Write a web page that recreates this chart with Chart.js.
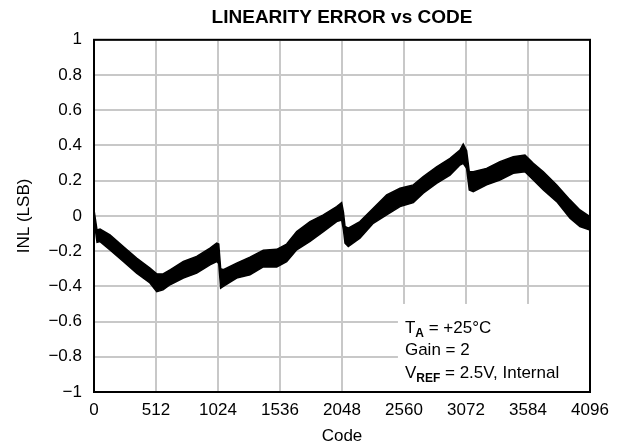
<!DOCTYPE html>
<html>
<head>
<meta charset="utf-8">
<script src="https://cdn.jsdelivr.net/npm/chart.js@4.4.1/dist/chart.umd.min.js"></script>
<style>
  html, body { margin: 0; padding: 0; background: #fff; }
  #wrap { width: 621px; height: 448px; }
</style>
</head>
<body>
<div id="wrap"><canvas id="c"></canvas></div>
<script>
var codes = [0, 25, 50, 132, 242, 352, 462, 518, 570, 628, 738, 848, 958, 1013, 1030, 1046, 1068, 1178, 1288,
  1398, 1509, 1591, 1674, 1784, 1894, 2004, 2045, 2060, 2073, 2100, 2196, 2306, 2417, 2527, 2637, 2719,
  2829, 2940, 3022, 3049, 3077, 3099, 3132, 3242, 3352, 3462, 3559, 3628, 3711, 3821, 3931, 4013, 4096];
// top edge of the INL trace (LSB)
var inlUpper = [0.035, -0.08, -0.075, -0.108, -0.174, -0.24, -0.296, -0.329, -0.33, -0.306, -0.259, -0.23, -0.183, -0.155, -0.16, -0.30, -0.306, -0.268, -0.235,
  -0.195, -0.19, -0.16, -0.089, -0.032, 0.006, 0.053, 0.075, 0.02, -0.06, -0.07, -0.032, 0.043, 0.119, 0.157, 0.176, 0.223,
  0.279, 0.327, 0.374, 0.408, 0.37, 0.251, 0.251, 0.27, 0.308, 0.336, 0.346, 0.299, 0.251, 0.176, 0.091, 0.034, -0.004];
// bottom edge of the INL trace (LSB)
var inlLower = [-0.02, -0.15, -0.146, -0.193, -0.259, -0.325, -0.381, -0.43, -0.42, -0.391, -0.353, -0.325, -0.278, -0.259, -0.27, -0.41, -0.40, -0.353, -0.335,
  -0.29, -0.29, -0.26, -0.193, -0.145, -0.089, -0.032, -0.023, -0.08, -0.155, -0.174, -0.127, -0.042, 0.006, 0.053, 0.075, 0.129,
  0.185, 0.232, 0.289, 0.298, 0.27, 0.147, 0.138, 0.176, 0.204, 0.242, 0.251, 0.204, 0.147, 0.081, -0.013, -0.06, -0.08];

var xTicks = [0, 512, 1024, 1536, 2048, 2560, 3072, 3584, 4096];
var noteLines = [
  { main: 'T', sub: 'A', rest: ' = +25°C' },
  { main: 'Gain = 2', sub: '', rest: '' },
  { main: 'V', sub: 'REF', rest: ' = 2.5V, Internal' }
];

var FONT = '"Liberation Sans", Arial, Helvetica, sans-serif';

function pts(ys) {
  return codes.map(function (c, i) { return { x: c, y: ys[i] }; });
}

var notePlugin = {
  id: 'note',
  beforeDatasetsDraw: function (chart) {
    var ctx = chart.ctx, a = chart.chartArea;
    var x = chart.scales.x, y = chart.scales.y;
    var left = x.getPixelForValue(2510), top = y.getPixelForValue(-0.5);
    ctx.save();
    ctx.fillStyle = '#fff';
    ctx.fillRect(left, top, a.right - left, a.bottom - top);
    ctx.restore();
  },
  afterDatasetsDraw: function (chart) {
    var ctx = chart.ctx, a = chart.chartArea;
    var x = chart.scales.x, y = chart.scales.y;
    ctx.save();
    ctx.strokeStyle = '#000';
    ctx.lineWidth = 2;
    ctx.strokeRect(a.left, a.top, a.right - a.left, a.bottom - a.top);

    var left = x.getPixelForValue(2510) + 7, top = y.getPixelForValue(-0.5);
    ctx.fillStyle = '#000';
    ctx.textBaseline = 'alphabetic';
    noteLines.forEach(function (l, i) {
      var by = top + 29 + i * 22.5;
      var px = left;
      ctx.font = '17px ' + FONT;
      ctx.fillText(l.main, px, by);
      px += ctx.measureText(l.main).width;
      if (l.sub) {
        ctx.font = 'bold 12px ' + FONT;
        ctx.fillText(l.sub, px, by + 4);
        px += ctx.measureText(l.sub).width;
      }
      if (l.rest) {
        ctx.font = '17px ' + FONT;
        ctx.fillText(l.rest, px, by);
      }
    });
    ctx.restore();
  }
};

new Chart(document.getElementById('c'), {
  type: 'line',
  data: {
    datasets: [
      { data: pts(inlUpper), borderColor: '#000', borderWidth: 1.5, pointRadius: 0, fill: false, tension: 0 },
      { data: pts(inlLower), borderColor: '#000', borderWidth: 1.5, pointRadius: 0, fill: '-1', backgroundColor: '#000', tension: 0 }
    ]
  },
  options: {
    responsive: true,
    maintainAspectRatio: false,
    animation: false,
    layout: { padding: { left: 0, right: 31, top: 0, bottom: 0 } },
    plugins: {
      legend: { display: false },
      tooltip: { enabled: false },
      title: {
        display: true,
        fullSize: false,
        text: 'LINEARITY ERROR vs CODE',
        color: '#000',
        font: { family: FONT, size: 19, weight: 'bold' },
        padding: { top: 6, bottom: 11 }
      }
    },
    scales: {
      x: {
        type: 'linear',
        min: 0,
        max: 4096,
        afterBuildTicks: function (s) { s.ticks = xTicks.map(function (v) { return { value: v }; }); },
        afterFit: function (s) { s.height = 56; },
        ticks: {
          color: '#000', font: { family: FONT, size: 17 }, padding: 8, maxRotation: 0, autoSkip: false,
          callback: function (v) { return String(v); }
        },
        grid: { color: '#c8c8c8', lineWidth: 2, drawTicks: false },
        border: { display: false },
        title: { display: true, text: 'Code', color: '#000', font: { family: FONT, size: 17 }, padding: { top: 0, bottom: 1 } }
      },
      y: {
        min: -1,
        max: 1,
        afterFit: function (s) { s.width = 94; },
        ticks: {
          stepSize: 0.2,
          color: '#000',
          font: { family: FONT, size: 17 },
          padding: 12,
          callback: function (v) {
            var r = Math.round(v * 10) / 10;
            return String(r).replace('-', '\u2212');
          }
        },
        grid: { color: '#c8c8c8', lineWidth: 2, drawTicks: false },
        border: { display: false },
        title: { display: true, text: 'INL (LSB)', color: '#000', font: { family: FONT, size: 17 }, padding: { top: 14, bottom: 0 } }
      }
    }
  },
  plugins: [notePlugin]
});
</script>
</body>
</html>
